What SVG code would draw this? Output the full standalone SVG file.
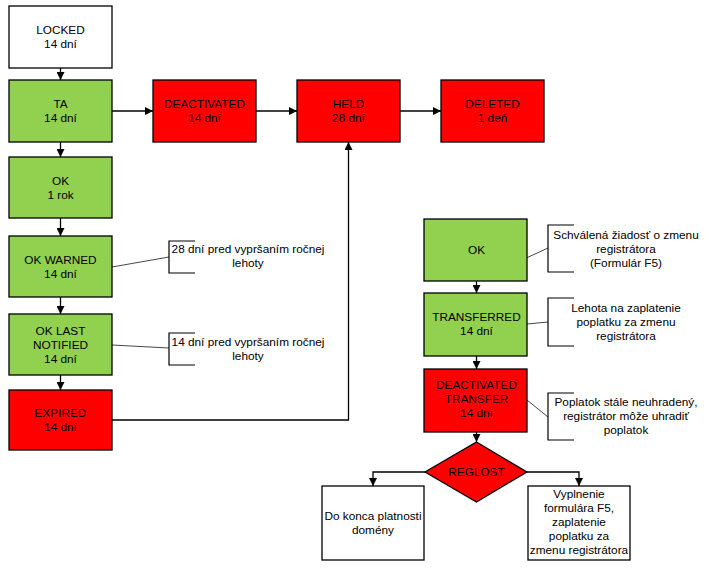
<svg xmlns="http://www.w3.org/2000/svg" width="707" height="571" viewBox="0 0 707 571">
<style>
.box{stroke:#000;stroke-width:1.3}
.w{fill:#fff}.g{fill:#92d050}.r{fill:#ff0000}
text{font-family:"Liberation Sans",Arial,sans-serif;font-size:11.8px;fill:#000;text-anchor:middle}
.c{fill:none;stroke:#000;stroke-width:1.3}
.n{fill:none;stroke:#333;stroke-width:0.9}
.br{fill:none;stroke:#000;stroke-width:1.2}
</style>
<defs>
<marker id="a" viewBox="0 0 10 10" refX="10" refY="5" markerWidth="8" markerHeight="8" markerUnits="userSpaceOnUse" orient="auto">
<path d="M0,0 L10,5 L0,10 z" fill="#000"/>
</marker>
</defs>
<rect width="707" height="571" fill="#fff"/>
<g id="connectors">
<line class="c" x1="60.5" y1="68" x2="60.5" y2="80" marker-end="url(#a)"/>
<line class="c" x1="60.5" y1="142" x2="60.5" y2="157" marker-end="url(#a)"/>
<line class="c" x1="60.5" y1="218" x2="60.5" y2="236" marker-end="url(#a)"/>
<line class="c" x1="60.5" y1="297" x2="60.5" y2="314" marker-end="url(#a)"/>
<line class="c" x1="60.5" y1="375" x2="60.5" y2="390" marker-end="url(#a)"/>
<line class="c" x1="112" y1="111" x2="153" y2="111" marker-end="url(#a)"/>
<line class="c" x1="256" y1="111" x2="297" y2="111" marker-end="url(#a)"/>
<line class="c" x1="400" y1="111" x2="441" y2="111" marker-end="url(#a)"/>
<polyline class="c" points="112,420 348.5,420 348.5,142" marker-end="url(#a)"/>
<line class="c" x1="476.5" y1="281" x2="476.5" y2="293" marker-end="url(#a)"/>
<line class="c" x1="476.5" y1="356" x2="476.5" y2="369" marker-end="url(#a)"/>
<line class="c" x1="476.5" y1="432" x2="476.5" y2="442" marker-end="url(#a)"/>
<polyline class="c" points="425,472 373,472 373,486" marker-end="url(#a)"/>
<polyline class="c" points="527,472 579,472 579,486" marker-end="url(#a)"/>
<line class="n" x1="112" y1="267" x2="169" y2="257"/>
<line class="n" x1="112" y1="345" x2="169" y2="348"/>
<line class="n" x1="548" y1="248" x2="476.5" y2="281"/>
<line class="n" x1="527" y1="324" x2="548" y2="322"/>
<line class="n" x1="527" y1="400" x2="548" y2="417"/>
</g>
<g id="locked"><rect class="box w" x="9" y="6" width="103" height="62"/><text x="60.5" y="34">LOCKED</text><text x="60.5" y="48">14 dní</text></g>
<g id="ta"><rect class="box g" x="9" y="80" width="103" height="62"/><text x="60.5" y="108">TA</text><text x="60.5" y="122">14 dní</text></g>
<g id="ok"><rect class="box g" x="9" y="157" width="103" height="61"/><text x="60.5" y="185">OK</text><text x="60.5" y="199">1 rok</text></g>
<g id="okwarned"><rect class="box g" x="9" y="236" width="103" height="61"/><text x="60.5" y="264">OK WARNED</text><text x="60.5" y="278">14 dní</text></g>
<g id="oklast"><rect class="box g" x="9" y="314" width="103" height="61"/><text x="60.5" y="335">OK LAST</text><text x="60.5" y="349">NOTIFIED</text><text x="60.5" y="363">14 dní</text></g>
<g id="expired"><rect class="box r" x="9" y="390" width="103" height="60"/><text x="60.5" y="417">EXPIRED</text><text x="60.5" y="431">14 dní</text></g>
<g id="deactivated"><rect class="box r" x="153" y="80" width="103" height="62"/><text x="204.5" y="108">DEACTIVATED</text><text x="204.5" y="122">14 dní</text></g>
<g id="held"><rect class="box r" x="297" y="80" width="103" height="62"/><text x="348.5" y="108">HELD</text><text x="348.5" y="122">28 dní</text></g>
<g id="deleted"><rect class="box r" x="441" y="80" width="103" height="62"/><text x="492.5" y="108">DELETED</text><text x="492.5" y="122">1 deň</text></g>
<g id="note1"><polyline class="br" points="195,241 169,241 169,273 195,273"/><text x="248" y="253">28 dní pred vypršaním ročnej</text><text x="248" y="267">lehoty</text></g>
<g id="note2"><polyline class="br" points="195,333 169,333 169,365 195,365"/><text x="248" y="346">14 dní pred vypršaním ročnej</text><text x="248" y="360">lehoty</text></g>
<g id="ok2"><rect class="box g" x="424" y="219" width="103" height="62"/><text x="476.5" y="254">OK</text></g>
<g id="transferred"><rect class="box g" x="424" y="293" width="103" height="63"/><text x="476.5" y="321">TRANSFERRED</text><text x="476.5" y="335">14 dní</text></g>
<g id="deacttransfer"><rect class="box r" x="424" y="369" width="103" height="63"/><text x="476.5" y="389">DEACTIVATED</text><text x="476.5" y="403">TRANSFER</text><text x="476.5" y="417">14 dní</text></g>
<g id="note3"><polyline class="br" points="574,225 548,225 548,272 574,272"/><text x="626" y="239">Schválená žiadosť o zmenu</text><text x="626" y="253">registrátora</text><text x="626" y="267">(Formulár F5)</text></g>
<g id="note4"><polyline class="br" points="574,298 548,298 548,346 574,346"/><text x="626" y="312">Lehota na zaplatenie</text><text x="626" y="326">poplatku za zmenu</text><text x="626" y="340">registrátora</text></g>
<g id="note5"><polyline class="br" points="574,393 548,393 548,440 574,440"/><text x="626" y="406">Poplatok stále neuhradený,</text><text x="626" y="420">registrátor môže uhradiť</text><text x="626" y="434">poplatok</text></g>
<g id="reglost"><polygon class="box r" points="476.5,442 527,472 476.5,502 425,472"/><text x="476.5" y="476">REGLOST</text></g>
<g id="dokonca"><rect class="box w" x="322" y="486" width="102" height="74"/><text x="373" y="520">Do konca platnosti</text><text x="373" y="534">domény</text></g>
<g id="vyplnenie"><rect class="box w" x="528" y="486" width="102" height="74"/><text x="579" y="498">Vyplnenie</text><text x="579" y="512">formulára F5,</text><text x="579" y="526">zaplatenie</text><text x="579" y="540">poplatku za</text><text x="579" y="554">zmenu registrátora</text></g>
</svg>
